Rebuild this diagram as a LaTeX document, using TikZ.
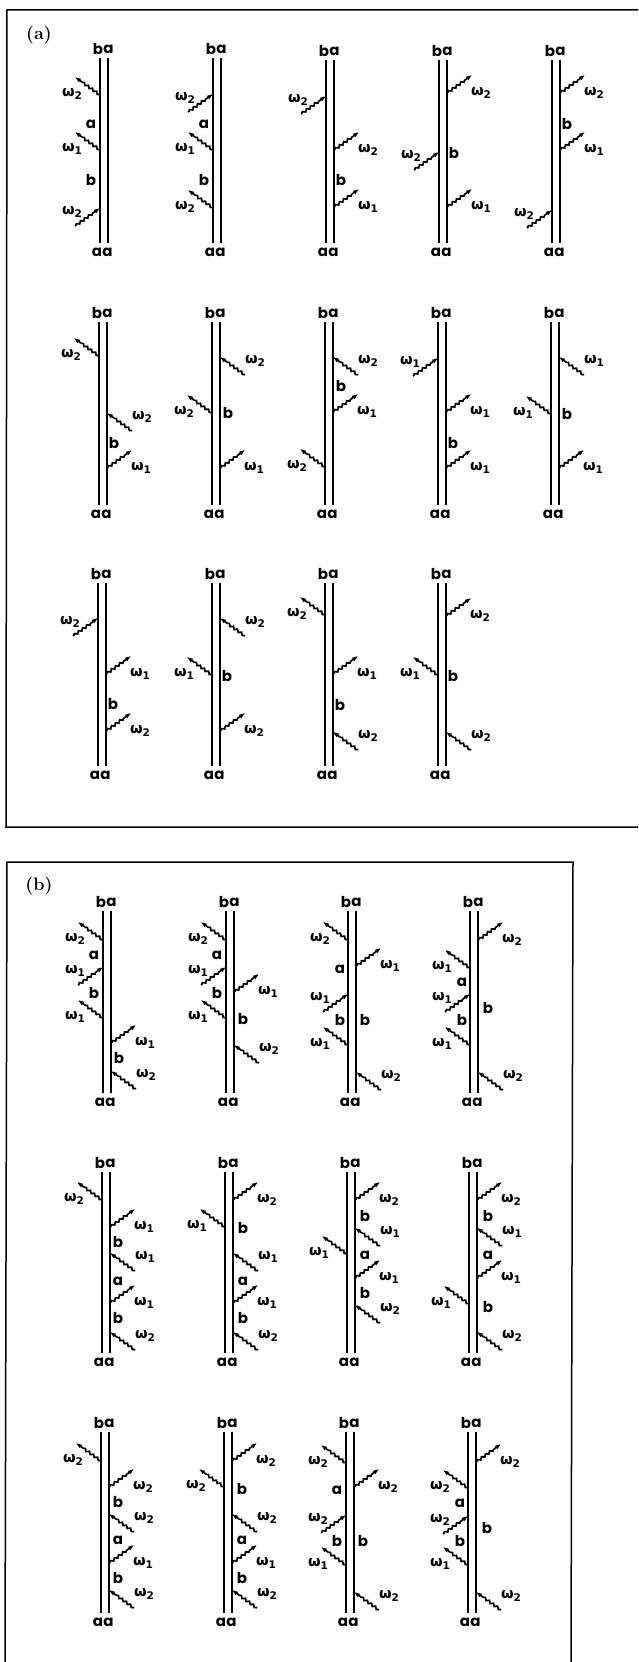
\documentclass[tikz,border=0pt]{standalone}
\usepackage{fontspec}
\usetikzlibrary{arrows.meta,decorations.pathmorphing}
\newfontfamily\legfont{Poppins}
\newfontfamily\omegafont{DejaVu Sans}

\tikzset{
  frameline/.style={line width=1.5pt},
  rail/.style={line width=1.7pt},
  photon/.style={line width=1.7pt, decorate,
    decoration={snake, amplitude=1.1pt, segment length=5pt, pre length=1pt, post length=7pt}},
  tipout/.style={photon, -{Triangle[length=6pt, width=3.6pt]}},
  leg/.style={inner sep=0pt, font=\legfont\bfseries\fontsize{15}{15}\selectfont},
  omega/.style={inner sep=0pt, font=\omegafont\bfseries\fontsize{14.5}{15}\selectfont},
  panel/.style={inner sep=0pt, font=\bfseries\fontsize{18}{18}\selectfont}
}

% frequency label, with its index set low
\newcommand{\freq}[1]{ω\raisebox{-3.5pt}{\fontsize{10.5}{11}\selectfont #1}}

% one pair of rails with its four end letters
\newcommand{\ladder}[4]{
  \coordinate (#1tl) at (#2,#3);
  \coordinate (#1tr) at (#2+8,#3);
  \coordinate (#1bl) at (#2,#4);
  \coordinate (#1br) at (#2+8,#4);
  \draw[rail] (#1tl) -- (#1bl);
  \draw[rail] (#1tr) -- (#1br);
  \node[leg] (#1nb) at (#2-2,#3-9) {b};
  \node[leg] (#1na) at (#2+8.5,#3-9) {a};
  \node[leg] (#1sb) at (#2-3,#4+9) {a};
  \node[leg] (#1sa) at (#2+7.5,#4+9) {a};
}
% photons: left/right rail, going up or down
\newcommand{\phlu}[3]{
  \coordinate (#1v#2) at (#1tl |- 0,#2);
  \path (#1v#2) ++(-25,-18) coordinate (#1e#2);
  \draw[tipout] (#1v#2) -- (#1e#2);
  \path (#1v#2) ++(-28,-1) node[omega] (#1w#2) {\freq{#3}};
}
\newcommand{\phld}[3]{
  \coordinate (#1v#2) at (#1tl |- 0,#2);
  \path (#1v#2) ++(-25,18) coordinate (#1e#2);
  \draw[tipout] (#1e#2) -- (#1v#2);
  \path (#1v#2) ++(-28,4) node[omega] (#1w#2) {\freq{#3}};
}
\newcommand{\phru}[3]{
  \coordinate (#1v#2) at (#1tr |- 0,#2);
  \path (#1v#2) ++(25,-18) coordinate (#1e#2);
  \draw[tipout] (#1v#2) -- (#1e#2);
  \path (#1v#2) ++(34,0) node[omega] (#1w#2) {\freq{#3}};
}
\newcommand{\phrd}[3]{
  \coordinate (#1v#2) at (#1tr |- 0,#2);
  \path (#1v#2) ++(25,18) coordinate (#1e#2);
  \draw[tipout] (#1e#2) -- (#1v#2);
  \path (#1v#2) ++(35,4) node[omega] (#1w#2) {\freq{#3}};
}
\newcommand{\state}[4]{\node[leg] (#1m#3m#4) at (#3,#4) {#2};}

\begin{document}
\begin{tikzpicture}[x=1pt, y=-1pt]
\useasboundingbox (0,0) rectangle (638,1662);

\draw[frameline] (638,10) -- (7,10) -- (6,827) -- (638,827);
\draw[frameline] (5,1662) -- (7,862) -- (573,862) -- (571,1662);
\node[panel] (panela) at (39,35) {(a)};
\node[panel] (panelb) at (39,886) {(b)};

% panel a, first row
\ladder{A}{100}{58}{243}
\phlu{A}{95}{2} \phlu{A}{150}{1} \phld{A}{208}{2}
\state{A}{a}{91}{124} \state{A}{b}{91}{180}
\ladder{B}{213}{58}{243}
\phld{B}{94}{2} \phlu{B}{150}{1} \phlu{B}{208}{2}
\state{B}{a}{204}{124} \state{B}{b}{204}{180}
\ladder{C}{326}{60}{243}
\phld{C}{96}{2} \phru{C}{150}{2} \phru{C}{207}{1}
\state{C}{b}{341}{180}
\ladder{D}{439}{60}{243}
\phru{D}{93}{2} \phld{D}{152}{2} \phru{D}{207}{1}
\state{D}{b}{454}{153}
\ladder{E}{552}{60}{243}
\phru{E}{93}{2} \phru{E}{150}{1} \phld{E}{210}{2}
\state{E}{b}{567}{124}

% panel a, second row
\ladder{F}{99}{322}{505}
\phlu{F}{356}{2} \phrd{F}{413}{2} \phru{F}{468}{1}
\state{F}{b}{114}{443}
\ladder{G}{212}{322}{505}
\phrd{G}{357}{2} \phlu{G}{413}{2} \phru{G}{468}{1}
\state{G}{b}{228}{413}
\ladder{H}{325}{322}{505}
\phrd{H}{357}{2} \phru{H}{412}{1} \phlu{H}{467}{2}
\state{H}{b}{341}{386}
\ladder{I}{438}{322}{505}
\phld{I}{358}{1} \phru{I}{412}{1} \phru{I}{468}{1}
\state{I}{b}{453}{443}
\ladder{J}{551}{322}{505}
\phrd{J}{357}{1} \phlu{J}{414}{1} \phru{J}{468}{1}
\state{J}{b}{567}{414}

% panel a, third row
\ladder{K}{98}{583}{766}
\phld{K}{618}{2} \phru{K}{674}{1} \phru{K}{731}{2}
\state{K}{b}{113}{704}
\ladder{L}{212}{583}{766}
\phrd{L}{618}{2} \phlu{L}{675}{1} \phru{L}{731}{2}
\state{L}{b}{227}{676}
\ladder{M}{325}{583}{766}
\phlu{M}{615}{2} \phru{M}{674}{1} \phrd{M}{732}{2}
\state{M}{b}{340}{705}
\ladder{N}{438}{583}{766}
\phru{N}{616}{2} \phlu{N}{675}{1} \phrd{N}{732}{2}
\state{N}{b}{453}{676}

% panel b, first row
\ladder{O}{103}{911}{1093}
\phlu{O}{940}{2} \phld{O}{967}{1} \phlu{O}{1018}{1} \phru{O}{1043}{1} \phrd{O}{1071}{2}
\state{O}{a}{94}{955} \state{O}{b}{94}{993} \state{O}{b}{119}{1058}
\ladder{P}{226}{911}{1093}
\phlu{P}{940}{2} \phld{P}{967}{1} \phru{P}{992}{1} \phlu{P}{1018}{1} \phrd{P}{1045}{2}
\state{P}{a}{217}{955} \state{P}{b}{217}{993} \state{P}{b}{243}{1019}
\ladder{Q}{348}{911}{1093}
\phlu{Q}{940}{2} \phru{Q}{966}{1} \phld{Q}{994}{1} \phlu{Q}{1045}{1} \phrd{Q}{1072}{2}
\state{Q}{a}{340}{969} \state{Q}{b}{340}{1020} \state{Q}{b}{365}{1020}
\ladder{R}{470}{911}{1093}
\phru{R}{940}{2} \phlu{R}{968}{1} \phld{R}{994}{1} \phlu{R}{1045}{1} \phrd{R}{1072}{2}
\state{R}{a}{462}{982} \state{R}{b}{462}{1020} \state{R}{b}{488}{1008}

% panel b, second row
\ladder{S}{102}{1172}{1353}
\phlu{S}{1200}{2} \phru{S}{1227}{1} \phrd{S}{1253}{1} \phru{S}{1303}{1} \phrd{S}{1332}{2}
\state{S}{b}{118}{1242} \state{S}{a}{118}{1281} \state{S}{b}{118}{1318}
\ladder{T}{225}{1172}{1353}
\phru{T}{1200}{2} \phlu{T}{1227}{1} \phrd{T}{1253}{1} \phru{T}{1303}{1} \phrd{T}{1332}{2}
\state{T}{b}{243}{1228} \state{T}{a}{243}{1281} \state{T}{b}{243}{1318}
\ladder{U}{347}{1172}{1353}
\phru{U}{1200}{2} \phrd{U}{1228}{1} \phlu{U}{1254}{1} \phru{U}{1278}{1} \phrd{U}{1305}{2}
\state{U}{b}{365}{1216} \state{U}{a}{365}{1255} \state{U}{b}{365}{1293}
\ladder{V}{469}{1172}{1353}
\phru{V}{1200}{2} \phrd{V}{1228}{1} \phru{V}{1278}{1} \phlu{V}{1304}{1} \phrd{V}{1332}{2}
\state{V}{b}{488}{1216} \state{V}{a}{488}{1255} \state{V}{b}{488}{1307}

% panel b, third row
\ladder{W}{101}{1432}{1613}
\phlu{W}{1461}{2} \phru{W}{1487}{2} \phrd{W}{1514}{2} \phru{W}{1563}{1} \phrd{W}{1590}{2}
\state{W}{b}{118}{1502} \state{W}{a}{118}{1540} \state{W}{b}{118}{1578}
\ladder{X}{224}{1432}{1613}
\phru{X}{1461}{2} \phlu{X}{1487}{2} \phrd{X}{1514}{2} \phru{X}{1563}{1} \phrd{X}{1590}{2}
\state{X}{b}{242}{1489} \state{X}{a}{242}{1540} \state{X}{b}{242}{1578}
\ladder{Y}{346}{1432}{1613}
\phlu{Y}{1463}{2} \phru{Y}{1487}{2} \phld{Y}{1515}{2} \phlu{Y}{1565}{1} \phrd{Y}{1592}{2}
\state{Y}{a}{337}{1490} \state{Y}{b}{337}{1541} \state{Y}{b}{363}{1541}
\ladder{Z}{468}{1432}{1613}
\phru{Z}{1462}{2} \phlu{Z}{1488}{2} \phld{Z}{1516}{2} \phlu{Z}{1565}{1} \phrd{Z}{1592}{2}
\state{Z}{a}{460}{1503} \state{Z}{b}{460}{1541} \state{Z}{b}{487}{1528}

\end{tikzpicture}
\end{document}
